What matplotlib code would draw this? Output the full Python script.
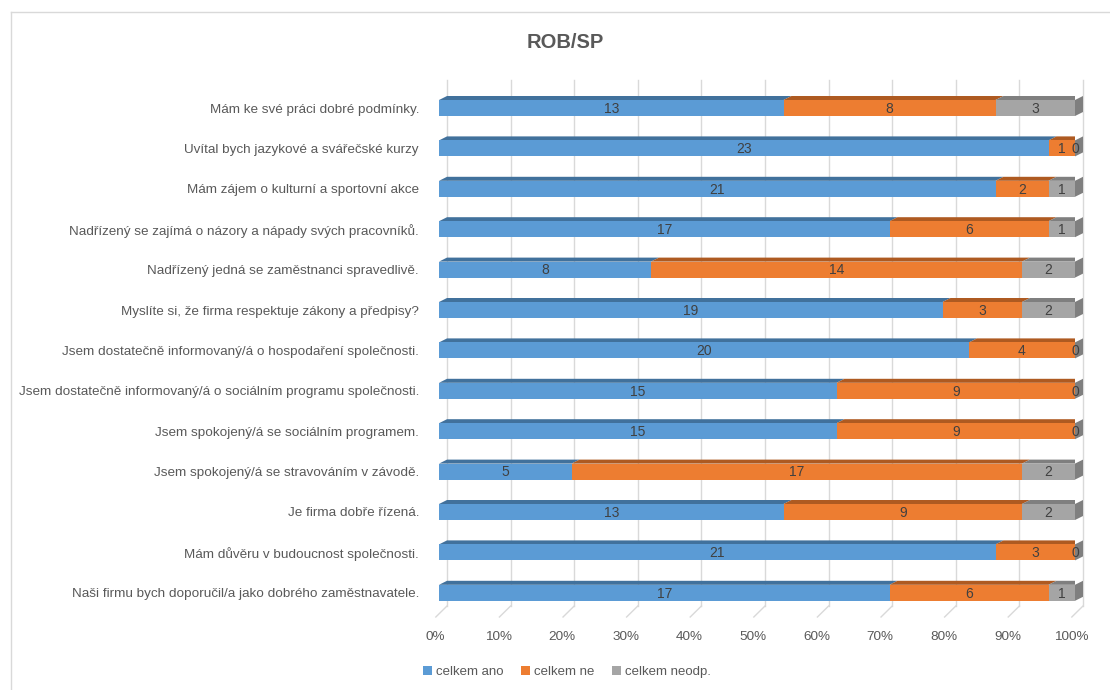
import numpy as np
import matplotlib.pyplot as plt
import matplotlib.transforms as mtransforms
from matplotlib.patches import Polygon, Rectangle, Patch
from matplotlib.lines import Line2D

# Data (top row first)
questions = [
    "Mám ke své práci dobré podmínky.",
    "Uvítal bych jazykové a svářečské kurzy",
    "Mám zájem o kulturní a sportovní akce",
    "Nadřízený se zajímá o názory a nápady svých pracovníků.",
    "Nadřízený jedná se zaměstnanci spravedlivě.",
    "Myslíte si, že firma respektuje zákony a předpisy?",
    "Jsem dostatečně informovaný/á o hospodaření společnosti.",
    "Jsem dostatečně informovaný/á o sociálním programu společnosti.",
    "Jsem spokojený/á se sociálním programem.",
    "Jsem spokojený/á se stravováním v závodě.",
    "Je firma dobře řízená.",
    "Mám důvěru v budoucnost společnosti.",
    "Naši firmu bych doporučil/a jako dobrého zaměstnavatele.",
]
ano = [13, 23, 21, 17, 8, 19, 20, 15, 15, 5, 13, 21, 17]
ne = [8, 1, 2, 6, 14, 3, 4, 9, 9, 17, 9, 3, 6]
neodp = [3, 0, 1, 1, 2, 2, 0, 0, 0, 2, 2, 0, 1]
series_names = ["celkem ano", "celkem ne", "celkem neodp."]
tick_labels = ["0%", "10%", "20%", "30%", "40%", "50%", "60%", "70%", "80%", "90%", "100%"]

colors = ["#5B9BD5", "#ED7D31", "#A5A5A5"]
top_colors = ["#41719C", "#AE5A21", "#7F7F7F"]
side_color = "#7F7F7F"
text_gray = "#595959"

plt.rcParams['font.family'] = ['Liberation Sans', 'DejaVu Sans']

W, H = 1110, 690
fig = plt.figure(figsize=(W / 100, H / 100), dpi=100)

# axes placed in pixels: x 0..1 -> 439..1075 px, rows centred at 108 + 40.4*i
top_px, bot_px = 75, 620
row0, step = 108, 40.4
ax = fig.add_axes([439 / W, 1 - bot_px / H, (1075 - 439) / W, (bot_px - top_px) / H])
ax.set_xlim(0, 1)
ax.set_ylim((bot_px - row0) / step, (top_px - row0) / step)

h = 16 / step      # front face height
dy = 4 / step      # depth (vertical)
dx = 8 / 636       # depth (horizontal)

# back wall and floor grid
y_back_top = (80 - row0) / step
y_back_bot = (606 - row0) / step
y_floor_front = (617 - row0) / step
for k in range(11):
    xb = k / 10 + dx
    ax.add_line(Line2D([xb, xb], [y_back_top, y_back_bot], color="#D9D9D9", lw=1, clip_on=False, zorder=0))
    ax.add_line(Line2D([k / 10 - 0.005, xb], [y_floor_front, y_back_bot], color="#D9D9D9", lw=1, clip_on=False, zorder=0))

# bars
data = np.array([ano, ne, neodp], dtype=float)
totals = data.sum(axis=0)
for i in range(len(questions)):
    c = i
    left = 0.0
    for s in range(3):
        w = data[s, i] / totals[i]
        y0 = c - h / 2
        # top face
        ax.add_patch(Polygon([(left, y0), (left + w, y0), (left + w + dx, y0 - dy), (left + dx, y0 - dy)],
                             closed=True, facecolor=top_colors[s], edgecolor="none", zorder=2))
        # front face
        ax.add_patch(Rectangle((left, y0), w, h, facecolor=colors[s], edgecolor="none", zorder=3))
        # value label
        ax.text(left + w / 2, c + 0.02, "%d" % data[s, i], ha="center", va="center",
                fontsize=10, color="#404040", zorder=5)
        left += w
    # right side face
    y0 = c - h / 2
    ax.add_patch(Polygon([(1, y0), (1 + dx, y0 - dy), (1 + dx, y0 + h - dy), (1, y0 + h)],
                         closed=True, facecolor=side_color, edgecolor="none", zorder=2, clip_on=False))

for sp in ax.spines.values():
    sp.set_visible(False)
ax.set_yticks(range(len(questions)))
ax.set_yticklabels(questions, fontsize=9.7, color=text_gray)
ax.set_xticks(np.linspace(0, 1, 11))
ax.set_xticklabels(tick_labels, fontsize=9.7, color=text_gray)
ax.tick_params(axis="y", length=0, pad=14.4)
ax.tick_params(axis="x", length=0, pad=8)
# percent labels sit a little left of the bar front
shift = mtransforms.ScaledTranslation(-4 / 100, 0, fig.dpi_scale_trans)
for lab in ax.get_xticklabels():
    lab.set_transform(lab.get_transform() + shift)

# title
fig.text(565 / W, 1 - 42 / H, "ROB/SP", ha="center", va="center", fontsize=14.5,
         fontweight="bold", color=text_gray)

# legend
handles = [Patch(facecolor=colors[s], edgecolor="none") for s in range(3)]
fig.legend(handles, series_names, loc="center", bbox_to_anchor=(567 / W, 1 - 672 / H), ncol=3,
           frameon=False, fontsize=9.5, handlelength=0.7, handleheight=0.7,
           handletextpad=0.3, columnspacing=1.3, labelcolor=text_gray)

# chart border (only left and top edges visible)
fig.add_artist(Line2D([11 / W, 11 / W], [1 - 12 / H, 0], color="#D9D9D9", lw=1))
fig.add_artist(Line2D([11 / W, 1], [1 - 12 / H, 1 - 12 / H], color="#D9D9D9", lw=1))

fig.savefig("out.png", dpi=100)
